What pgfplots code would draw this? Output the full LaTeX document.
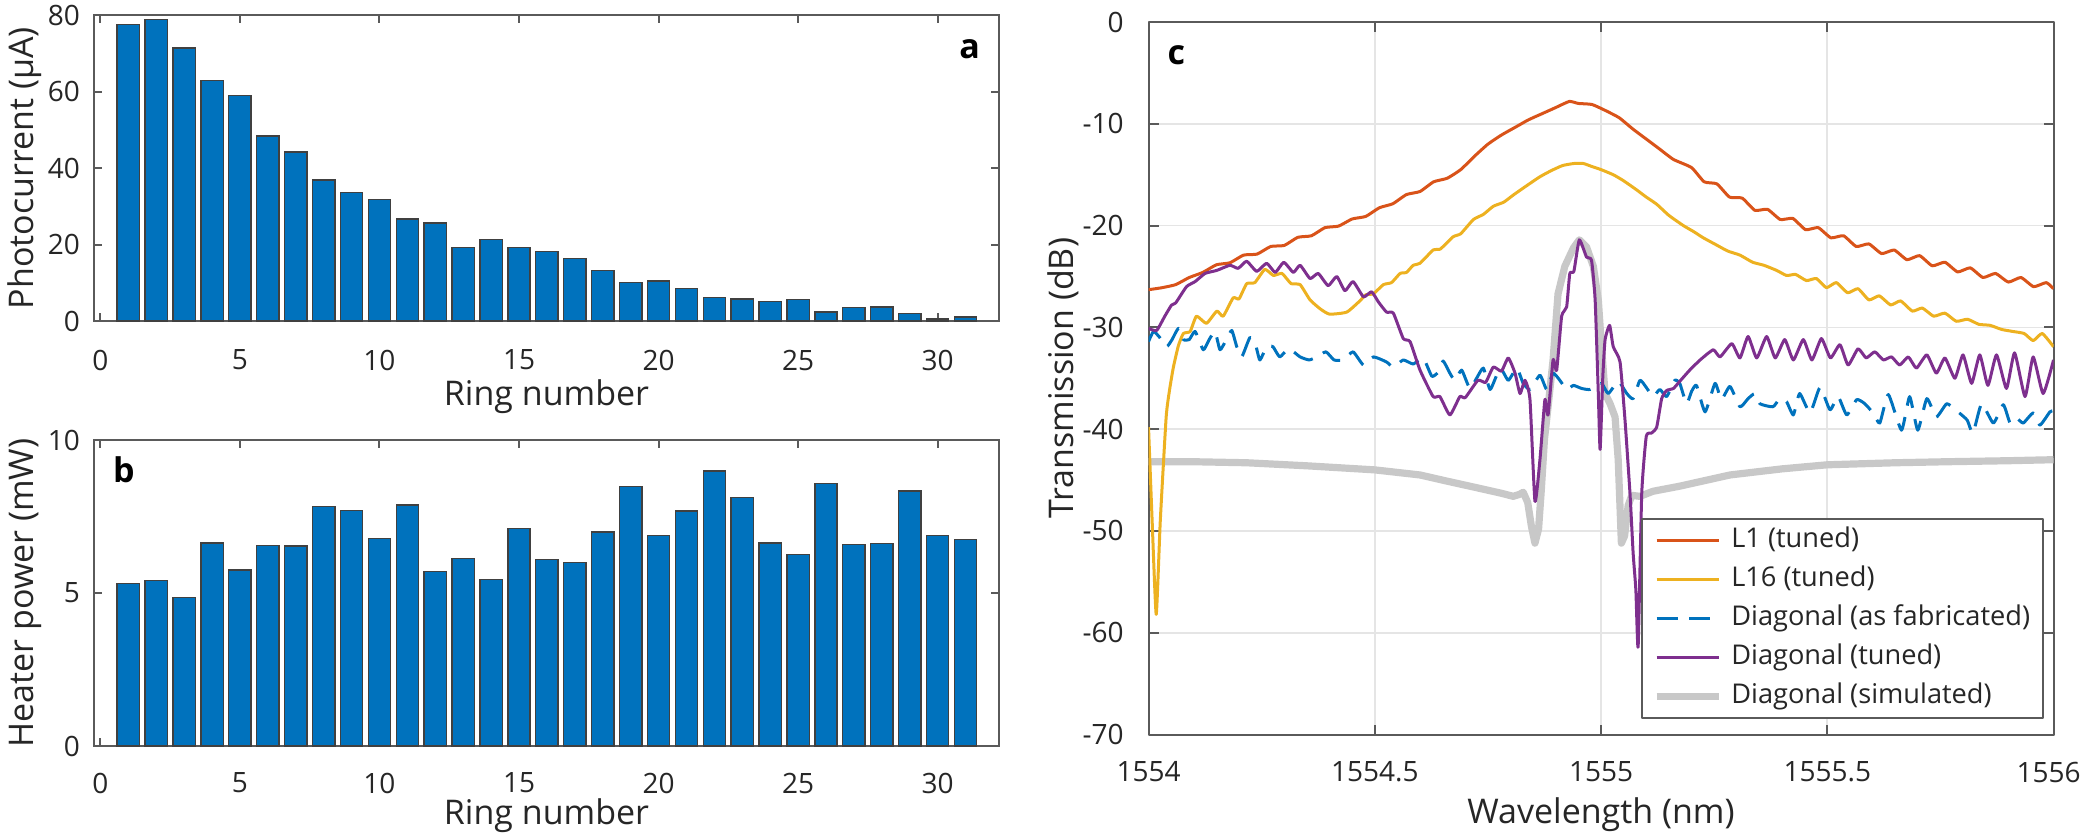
\documentclass[border=0pt]{standalone}
\usepackage{pgfplots}
\usepackage{pgfplotstable}
\pgfplotsset{compat=1.18}
\usepackage{fontspec}
\setmainfont{Open Sans}

\definecolor{mblue}{HTML}{0072BD}
\definecolor{mred}{HTML}{D95319}
\definecolor{myellow}{HTML}{EDB120}
\definecolor{mpurple}{HTML}{7E2F8E}
\definecolor{msim}{HTML}{C8C8C8}
\definecolor{axgray}{HTML}{5A5A5A}
\definecolor{txt}{HTML}{262626}

% photocurrent (uA) and heater power (mW) for each ring
\pgfplotstableread{
ring photo heater
1  77.5 5.32
2  78.8 5.41
3  71.4 4.85
4  62.9 6.64
5  59.0 5.75
6  48.4 6.56
7  44.2 6.54
8  36.9 7.83
9  33.6 7.70
10 31.7 6.79
11 26.7 7.88
12 25.6 5.71
13 19.2 6.12
14 21.3 5.44
15 19.2 7.10
16 18.2 6.10
17 16.4 6.00
18 13.2 6.99
19 10.1 8.49
20 10.5 6.88
21 8.5  7.68
22 6.1  8.99
23 5.75 8.13
24 5.05 6.64
25 5.6  6.25
26 2.35 8.57
27 3.5  6.59
28 3.65 6.61
29 1.9  8.34
30 0.5  6.88
31 1.1  6.75
}\ringdata

\pgfplotsset{
  panel/.style={
    scale only axis, anchor=south west,
    axis line style={axgray, line width=0.5pt},
    every tick/.style={axgray, line width=0.5pt},
    tick align=inside, major tick length=2pt,
    ticklabel style={font=\fontsize{7}{8}\selectfont, text=txt},
    label style={font=\fontsize{8.5}{10}\selectfont, text=txt},
  },
  ringbars/.style={ybar, bar width=0.8, fill=mblue, draw=black!75, line width=0.35pt},
}

\begin{document}
\begin{tikzpicture}
\useasboundingbox (0,0) rectangle (520.75pt,209.5pt);

% ---------- a: photocurrent ----------
\begin{axis}[panel, at={(23.5pt,129.25pt)}, width=226.25pt, height=76.5pt,
  xmin=-0.23, xmax=32.2, ymin=0, ymax=80,
  xtick={0,5,10,15,20,25,30}, xticklabels={0,5,10,15,20,25,30},
  ytick={0,20,40,60,80}, yticklabels={0,20,40,60,80},
  xticklabel style={yshift=-3.7pt},
  xlabel={Ring number}, ylabel={Photocurrent (μA)},
  xlabel style={at={(axis description cs:0.5,-0.2745)}, anchor=base},
  ylabel style={at={(axis description cs:-0.0673,0.5)}, anchor=base}]
\addplot[ringbars] table[x=ring, y=photo] {\ringdata};
\node[font=\bfseries\fontsize{8.5}{10}\selectfont, text=black] at (rel axis cs:0.9674,0.889) {a};
\end{axis}

% ---------- b: heater power ----------
\begin{axis}[panel, at={(23.5pt,23pt)}, width=226.25pt, height=76.5pt,
  xmin=-0.23, xmax=32.2, ymin=0, ymax=10,
  xtick={0,5,10,15,20,25,30}, xticklabels={0,5,10,15,20,25,30},
  ytick={0,5,10}, yticklabels={0,5,10},
  xticklabel style={yshift=-3.2pt},
  xlabel={Ring number}, ylabel={Heater power (mW)},
  xlabel style={at={(axis description cs:0.5,-0.258)}, anchor=base},
  ylabel style={at={(axis description cs:-0.0673,0.5)}, anchor=base}]
\addplot[ringbars] table[x=ring, y=heater] {\ringdata};
\node[font=\bfseries\fontsize{8.5}{10}\selectfont, text=black] at (rel axis cs:0.0331,0.902) {b};
\end{axis}

% ---------- c: transmission spectra ----------
\begin{axis}[panel, at={(287.125pt,25.875pt)}, width=226.25pt, height=178.125pt,
  xmin=1554, xmax=1556, ymin=-70, ymax=0,
  xtick={1554,1554.5,1555,1555.5,1556},
  xticklabels={1554,1554.5,1555,1555.5,\hspace*{-2.5pt}1556},
  ytick={-70,-60,-50,-40,-30,-20,-10,0},
  yticklabels={-70,-60,-50,-40,-30,-20,-10,0},
  major tick length=2.5pt,
  grid=major, major grid style={black!10, line width=0.4pt},
  xticklabel style={yshift=-3.3pt},
  yticklabel style={xshift=-2.7pt},
  xlabel={Wavelength (nm)}, ylabel={Transmission (dB)},
  xlabel style={at={(axis description cs:0.5,-0.1246)}, anchor=base},
  ylabel style={at={(axis description cs:-0.0834,0.5)}, anchor=base},
  legend image code/.code={\draw[#1] (0pt,0pt) -- (15.5pt,0pt);},
  legend cell align=left,
  legend style={at={(0.9896,0.3039)}, anchor=north east,
    draw=axgray, line width=0.5pt, fill=white,
    font=\fontsize{6.8}{7.5}\selectfont, text=txt,
    inner xsep=2.75pt, inner ysep=1.75pt, row sep=2.2pt, column sep=1.75pt,
    nodes={inner sep=0.5pt, text height=5pt, text depth=1.5pt}},
  line join=round]

% Diagonal, simulated
\addplot[msim, line width=1.8pt, forget plot] coordinates {
(1554.000,-43.2) (1554.100,-43.2) (1554.217,-43.3) (1554.350,-43.6)
(1554.500,-44.0) (1554.600,-44.5) (1554.659,-45.1) (1554.720,-45.7)
(1554.780,-46.3) (1554.806,-46.6) (1554.820,-46.4) (1554.828,-46.2)
(1554.838,-47.2) (1554.846,-49.5) (1554.854,-51.2) (1554.862,-49.8)
(1554.868,-46.0) (1554.875,-41.0) (1554.883,-37.8) (1554.894,-33.2)
(1554.905,-26.7) (1554.920,-24.0) (1554.939,-22.2) (1554.952,-21.4)
(1554.968,-22.1) (1554.983,-24.0) (1554.994,-27.3) (1555.001,-31.9)
(1555.009,-36.5) (1555.020,-37.5) (1555.031,-38.8) (1555.038,-43.0)
(1555.045,-51.2) (1555.052,-50.5) (1555.060,-47.5) (1555.068,-46.5)
(1555.086,-46.6) (1555.115,-46.1) (1555.174,-45.6) (1555.285,-44.5)
(1555.400,-43.9) (1555.500,-43.5) (1555.650,-43.3) (1555.764,-43.2)
(1555.900,-43.1) (1556.000,-43.0)};

% L1, tuned
\addplot[mred, line width=0.75pt, smooth, tension=0.3, forget plot] coordinates {
(1554.000,-26.3) (1554.030,-26.1) (1554.060,-25.8) (1554.090,-25.1)
(1554.120,-24.6) (1554.150,-23.85) (1554.180,-23.65) (1554.210,-22.9)
(1554.240,-22.8) (1554.270,-22.05) (1554.300,-21.95) (1554.330,-21.15)
(1554.360,-21.0) (1554.390,-20.2) (1554.420,-20.05) (1554.450,-19.35)
(1554.480,-19.1) (1554.510,-18.25) (1554.540,-17.85) (1554.570,-16.95)
(1554.600,-16.65) (1554.630,-15.7) (1554.660,-15.35) (1554.690,-14.5)
(1554.720,-13.2) (1554.750,-12.0) (1554.780,-11.1) (1554.810,-10.35)
(1554.840,-9.6) (1554.870,-9.0) (1554.900,-8.4) (1554.930,-7.8)
(1554.950,-8.0) (1554.980,-8.1) (1555.010,-8.7) (1555.040,-9.4)
(1555.070,-10.5) (1555.100,-11.5) (1555.130,-12.5) (1555.160,-13.5)
(1555.200,-14.3) (1555.228,-15.7) (1555.256,-15.9) (1555.284,-17.2)
(1555.312,-17.3) (1555.340,-18.5) (1555.368,-18.4) (1555.396,-19.4)
(1555.424,-19.3) (1555.452,-20.4) (1555.480,-20.2) (1555.508,-21.2)
(1555.536,-21.0) (1555.564,-22.05) (1555.592,-21.8) (1555.620,-22.75)
(1555.648,-22.4) (1555.676,-23.35) (1555.704,-22.95) (1555.732,-23.95)
(1555.760,-23.6) (1555.788,-24.55) (1555.816,-24.15) (1555.844,-25.1)
(1555.872,-24.7) (1555.900,-25.55) (1555.928,-25.1) (1555.956,-26.0)
(1555.984,-25.6) (1556.000,-26.2)};

% L16, tuned
\addplot[myellow, line width=0.75pt, smooth, tension=0.3, forget plot] coordinates {
(1554.000,-39.8) (1554.008,-49.0) (1554.017,-58.2) (1554.026,-49.0)
(1554.039,-38.8) (1554.047,-36.0) (1554.055,-33.9) (1554.066,-31.8)
(1554.077,-30.6) (1554.092,-30.4) (1554.106,-28.9) (1554.128,-29.6)
(1554.151,-28.4) (1554.165,-28.9) (1554.187,-27.1) (1554.200,-27.2)
(1554.217,-25.7) (1554.235,-25.6) (1554.257,-24.3) (1554.276,-24.9)
(1554.295,-24.7) (1554.315,-25.7) (1554.335,-25.8) (1554.357,-27.3)
(1554.380,-28.2) (1554.400,-28.7) (1554.438,-28.5) (1554.467,-27.4)
(1554.480,-26.8) (1554.497,-26.7) (1554.519,-25.8) (1554.537,-25.6)
(1554.556,-24.7) (1554.570,-24.6) (1554.585,-23.9) (1554.600,-23.7)
(1554.629,-22.4) (1554.645,-22.3) (1554.673,-21.1) (1554.690,-20.8)
(1554.718,-19.4) (1554.740,-18.9) (1554.762,-18.1) (1554.785,-17.7)
(1554.806,-17.0) (1554.835,-16.1) (1554.865,-15.2) (1554.890,-14.6)
(1554.915,-14.1) (1554.940,-13.9) (1554.961,-13.9) (1554.980,-14.2)
(1555.000,-14.5) (1555.027,-15.0) (1555.050,-15.6) (1555.079,-16.5)
(1555.100,-17.2) (1555.123,-17.9) (1555.150,-19.0) (1555.182,-20.0)
(1555.205,-20.6) (1555.226,-21.2) (1555.255,-21.9) (1555.280,-22.5)
(1555.307,-22.9) (1555.335,-23.6) (1555.360,-23.9) (1555.388,-24.4)
(1555.410,-24.9) (1555.430,-24.8) (1555.454,-25.4) (1555.476,-25.2)
(1555.498,-26.1) (1555.520,-25.6) (1555.545,-26.6) (1555.568,-26.2)
(1555.592,-27.3) (1555.615,-26.9) (1555.640,-27.8) (1555.662,-27.4)
(1555.688,-28.4) (1555.710,-28.1) (1555.735,-28.9) (1555.760,-28.6)
(1555.785,-29.4) (1555.810,-29.2) (1555.835,-29.7) (1555.860,-29.8)
(1555.885,-30.2) (1555.910,-30.4) (1555.935,-30.6) (1555.955,-31.3)
(1555.975,-30.6) (1556.000,-31.9)};

% Diagonal, as fabricated
\addplot[mblue, line width=0.75pt, dash pattern=on 5.25pt off 2.9pt, smooth, tension=0.3, forget plot] coordinates {
(1554.000,-31.4) (1554.011,-30.4) (1554.025,-31.0) (1554.040,-31.9)
(1554.052,-31.2) (1554.066,-30.1) (1554.077,-31.2) (1554.090,-31.2)
(1554.103,-30.4) (1554.121,-32.2) (1554.134,-31.2) (1554.147,-30.4)
(1554.158,-32.2) (1554.172,-31.2) (1554.184,-30.3) (1554.195,-31.9)
(1554.206,-32.9) (1554.224,-31.0) (1554.236,-31.6) (1554.246,-33.2)
(1554.261,-31.9) (1554.275,-31.9) (1554.290,-32.9) (1554.310,-32.1)
(1554.335,-32.9) (1554.355,-33.2) (1554.372,-32.9) (1554.392,-32.4)
(1554.410,-33.2) (1554.430,-33.2) (1554.452,-32.4) (1554.475,-33.7)
(1554.497,-32.9) (1554.526,-33.4) (1554.541,-33.9) (1554.563,-33.2)
(1554.585,-33.6) (1554.607,-33.0) (1554.626,-34.8) (1554.640,-34.4)
(1554.651,-33.3) (1554.666,-34.5) (1554.677,-35.2) (1554.692,-34.2)
(1554.710,-36.0) (1554.725,-35.0) (1554.740,-34.0) (1554.755,-36.1)
(1554.777,-34.0) (1554.795,-35.2) (1554.814,-34.0) (1554.828,-35.5)
(1554.843,-36.1) (1554.865,-34.7) (1554.880,-36.1) (1554.894,-34.5)
(1554.909,-35.2) (1554.924,-36.1) (1554.939,-35.7) (1554.957,-36.0)
(1554.976,-36.1) (1555.001,-35.5) (1555.016,-36.5) (1555.038,-35.3)
(1555.057,-36.5) (1555.071,-37.0) (1555.086,-35.2) (1555.100,-35.9)
(1555.115,-36.8) (1555.130,-36.1) (1555.145,-36.8) (1555.163,-35.2)
(1555.174,-35.5) (1555.189,-37.5) (1555.200,-36.3) (1555.211,-35.7)
(1555.230,-38.3) (1555.252,-35.5) (1555.266,-37.1) (1555.285,-35.8)
(1555.307,-37.8) (1555.325,-37.0) (1555.340,-36.5) (1555.351,-37.5)
(1555.380,-37.8) (1555.395,-37.0) (1555.410,-37.3) (1555.425,-38.6)
(1555.439,-36.5) (1555.462,-38.4) (1555.484,-35.9) (1555.506,-38.1)
(1555.524,-36.8) (1555.543,-38.6) (1555.565,-37.1) (1555.583,-37.5)
(1555.601,-38.4) (1555.616,-39.4) (1555.635,-36.6) (1555.664,-40.1)
(1555.682,-36.8) (1555.700,-40.1) (1555.720,-37.0) (1555.741,-38.8)
(1555.764,-37.5) (1555.786,-38.2) (1555.809,-39.1) (1555.822,-40.4)
(1555.841,-37.5) (1555.867,-39.4) (1555.889,-37.6) (1555.904,-39.4)
(1555.918,-38.9) (1555.933,-39.4) (1555.955,-38.4) (1555.970,-39.6)
(1555.992,-38.3) (1556.000,-38.2)};

% Diagonal, tuned
\addplot[mpurple, line width=0.75pt, smooth, tension=0.3, forget plot] coordinates {
(1554.000,-30.1) (1554.018,-30.3) (1554.036,-28.9) (1554.051,-27.8)
(1554.060,-27.6) (1554.084,-26.0) (1554.103,-25.5) (1554.125,-24.7)
(1554.151,-24.4) (1554.180,-23.9) (1554.198,-24.2) (1554.217,-23.5)
(1554.239,-24.5) (1554.261,-23.7) (1554.280,-24.6) (1554.299,-23.6)
(1554.320,-24.6) (1554.335,-23.9) (1554.357,-25.2) (1554.375,-24.7)
(1554.397,-25.9) (1554.416,-25.0) (1554.434,-26.4) (1554.452,-25.5)
(1554.475,-27.0) (1554.493,-26.5) (1554.508,-27.5) (1554.526,-28.5)
(1554.541,-28.6) (1554.563,-31.1) (1554.578,-31.4) (1554.600,-34.2)
(1554.629,-36.8) (1554.644,-36.8) (1554.666,-38.6) (1554.688,-36.8)
(1554.700,-36.9) (1554.728,-35.2) (1554.745,-35.4) (1554.762,-33.9)
(1554.780,-34.3) (1554.795,-33.0) (1554.810,-34.5) (1554.821,-36.5)
(1554.832,-35.2) (1554.843,-37.1) (1554.854,-47.1) (1554.865,-43.0)
(1554.876,-37.1) (1554.883,-38.6) (1554.894,-33.2) (1554.902,-34.2)
(1554.913,-28.9) (1554.924,-28.0) (1554.931,-24.7) (1554.940,-24.5)
(1554.952,-21.4) (1554.968,-23.1) (1554.979,-23.4) (1554.987,-27.3)
(1554.994,-36.5) (1554.998,-42.0) (1555.004,-34.8) (1555.009,-31.2)
(1555.019,-29.8) (1555.027,-31.9) (1555.042,-33.4) (1555.053,-39.1)
(1555.064,-46.3) (1555.071,-52.2) (1555.077,-55.8) (1555.082,-61.4)
(1555.090,-46.3) (1555.100,-40.7) (1555.111,-40.4) (1555.123,-39.8)
(1555.134,-37.0) (1555.145,-36.2) (1555.160,-36.0) (1555.174,-35.3)
(1555.196,-34.2) (1555.219,-33.2) (1555.248,-32.2) (1555.263,-32.9)
(1555.289,-31.6) (1555.307,-33.0) (1555.325,-30.9) (1555.344,-33.0)
(1555.366,-30.9) (1555.385,-33.0) (1555.406,-31.2) (1555.425,-33.2)
(1555.447,-31.2) (1555.466,-33.2) (1555.487,-31.1) (1555.507,-33.0)
(1555.528,-31.7) (1555.546,-33.7) (1555.568,-32.1) (1555.586,-33.0)
(1555.605,-32.4) (1555.624,-33.2) (1555.642,-32.9) (1555.660,-33.7)
(1555.679,-32.9) (1555.697,-34.0) (1555.720,-32.7) (1555.741,-34.5)
(1555.760,-33.0) (1555.782,-35.0) (1555.800,-32.7) (1555.819,-35.5)
(1555.837,-32.7) (1555.855,-35.7) (1555.874,-32.7) (1555.896,-36.0)
(1555.914,-32.5) (1555.937,-36.8) (1555.955,-32.9) (1555.977,-36.5)
(1556.000,-33.2)};

\addlegendimage{mred, line width=0.75pt}
\addlegendentry{L1 (tuned)}
\addlegendimage{myellow, line width=0.75pt}
\addlegendentry{L16 (tuned)}
\addlegendimage{mblue, line width=0.75pt, dash pattern=on 5.25pt off 2.9pt}
\addlegendentry{Diagonal (as fabricated)}
\addlegendimage{mpurple, line width=0.75pt}
\addlegendentry{Diagonal (tuned)}
\addlegendimage{msim, line width=1.8pt}
\addlegendentry{Diagonal (simulated)}

\node[font=\bfseries\fontsize{8.5}{10}\selectfont, text=black] at (rel axis cs:0.0309,0.9537) {c};
\end{axis}
\end{tikzpicture}
\end{document}
